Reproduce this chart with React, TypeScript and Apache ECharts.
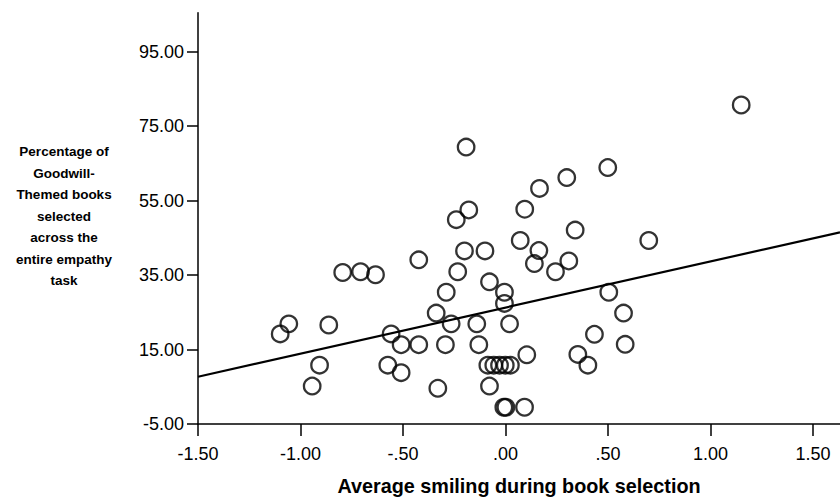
import React, { useEffect, useRef } from "react";
import * as echarts from "echarts";

// Scatter points: Average smiling (x) vs Percentage of Goodwill-Themed books (y)
const smileX = [
  -0.192, -0.179, -0.24, -0.423, -0.2, -0.1, -0.233, -0.794, -0.707, -0.634,
  -0.078, -0.005, -0.005, -0.289, -0.338, -0.265, -0.14, 0.02, -1.057, -1.099,
  -0.862, -0.558, -0.509, -0.423, -0.293, -0.13, -0.907, -0.574, -0.509, -0.943,
  -0.33, -0.078, -0.086, -0.057, -0.029, -0.001, 0.024, 0.104, -0.008, 0.002,
  0.093, 1.15, 0.499, 0.299, 0.166, 0.094, 0.34, 0.699, 0.072, 0.163,
  0.141, 0.309, 0.244, 0.504, 0.576, 0.434, 0.584, 0.353, 0.402,
];
const goodwillPct = [
  69.4, 52.5, 49.9, 39.1, 41.5, 41.5, 35.9, 35.7, 35.9, 35.1,
  33.2, 30.4, 27.4, 30.4, 24.8, 21.9, 21.9, 21.9, 21.9, 19.2,
  21.6, 19.2, 16.3, 16.3, 16.3, 16.3, 10.8, 10.8, 8.8, 5.2,
  4.6, 5.2, 10.8, 10.8, 10.8, 10.8, 10.8, 13.6, -0.5, -0.5,
  -0.5, 80.7, 63.9, 61.2, 58.3, 52.7, 47.1, 44.3, 44.3, 41.6,
  38.1, 38.8, 35.9, 30.4, 24.8, 19.1, 16.4, 13.7, 10.8,
];

// Fit line endpoints
const fitX = [-1.5, 1.632];
const fitY = [7.7, 46.5];

const xTicks = [-1.5, -1.0, -0.5, 0, 0.5, 1.0, 1.5];
const yTicks = [-5, 15, 35, 55, 75, 95];

const xTitle = "Average smiling during book selection";
const yTitle =
  "Percentage of\nGoodwill-\nThemed books\nselected\nacross the\nentire empathy\ntask";

const fmt = (v: number) => {
  const s = Number(v).toFixed(2);
  return s.replace(/^(-?)0\./, "$1.");
};

const tickFont = "'Liberation Sans Narrow', 'Arial Narrow', 'Liberation Sans', Arial, sans-serif";
const titleFont = "'Liberation Sans', Arial, sans-serif";

export default function App() {
  const ref = useRef<HTMLDivElement>(null);
  useEffect(() => {
    if (!ref.current) return;
    const chart = echarts.init(ref.current, null, { renderer: "svg" });
    const points = smileX.map((x, i) => [x, goodwillPct[i]]);
    const line = fitX.map((x, i) => [x, fitY[i]]);
    chart.setOption({
      animation: false,
      backgroundColor: "#ffffff",
      grid: { left: 198, right: 0, top: 12.7, bottom: 73.3, containLabel: false },
      xAxis: {
        type: "value",
        min: -1.5,
        max: 1.632,
        interval: 0.5,
        name: xTitle,
        nameLocation: "middle",
        nameGap: 52,
        nameTextStyle: {
          fontFamily: titleFont,
          fontWeight: "bold",
          fontSize: 19.8,
          color: "#000",
          verticalAlign: "top",
        },
        axisLine: { show: true, onZero: false, lineStyle: { color: "#000", width: 1.5 } },
        axisTick: { show: true, length: 12, customValues: xTicks, lineStyle: { color: "#000", width: 1.5 } },
        axisLabel: {
          customValues: xTicks,
          formatter: fmt,
          fontFamily: tickFont,
          fontSize: 18,
          color: "#000",
          margin: 21,
        },
        splitLine: { show: false },
      },
      yAxis: {
        type: "value",
        min: -5,
        max: 105.5,
        interval: 20,
        axisLine: { show: true, onZero: false, lineStyle: { color: "#000", width: 1.5 } },
        axisTick: { show: true, length: 11, customValues: yTicks, lineStyle: { color: "#000", width: 1.5 } },
        axisLabel: {
          customValues: yTicks,
          formatter: fmt,
          fontFamily: tickFont,
          fontSize: 18,
          color: "#000",
          margin: 14,
        },
        splitLine: { show: false },
      },
      graphic: [
        {
          type: "text",
          x: 64,
          y: 216,
          style: {
            text: yTitle,
            fontFamily: titleFont,
            fontWeight: "bold",
            fontSize: 13.5,
            lineHeight: 21.5,
            fill: "#000",
            align: "center",
            verticalAlign: "middle",
          },
        },
      ],
      series: [
        {
          type: "line",
          data: line,
          symbol: "none",
          lineStyle: { color: "#000", width: 2.2 },
          z: 2,
          silent: true,
        },
        {
          type: "scatter",
          data: points,
          symbol: "circle",
          symbolSize: 16.5,
          itemStyle: { color: "rgba(255,255,255,0)", borderColor: "#000", borderWidth: 2.3 },
          z: 3,
        },
      ],
    });
    return () => chart.dispose();
  }, []);
  return (
    <div
      ref={ref}
      style={{ position: "fixed", left: 0, top: 0, width: 840, height: 501, background: "#fff" }}
    />
  );
}
